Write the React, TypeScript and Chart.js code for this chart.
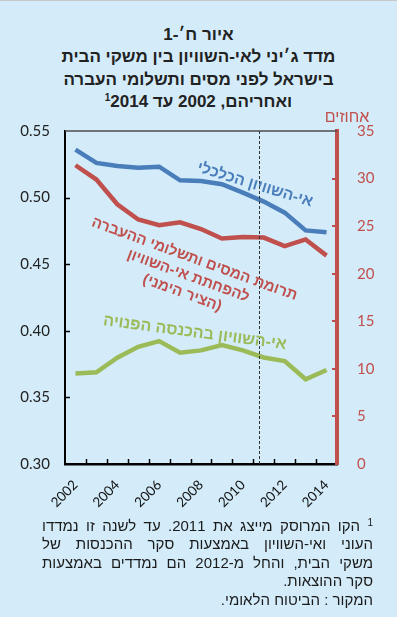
import React, { useEffect, useRef } from "react";
import { Chart, registerables } from "chart.js";

Chart.register(...registerables);

const years = ["2002", "2003", "2004", "2005", "2006", "2007", "2008", "2009", "2010", "2011", "2012", "2013", "2014"];
const giniEconomic = [0.536, 0.526, 0.5237, 0.5225, 0.5232, 0.513, 0.5125, 0.51, 0.5037, 0.497, 0.4887, 0.4754, 0.474];
const taxContribution = [31.4, 29.9, 27.3, 25.7, 25.1, 25.4, 24.7, 23.7, 23.86, 23.8, 22.9, 23.6, 21.9];
const giniDisposable = [0.368, 0.3688, 0.3798, 0.388, 0.3923, 0.3836, 0.3853, 0.3893, 0.3853, 0.38, 0.3773, 0.3636, 0.3706];
const leftTicks = [0.3, 0.35, 0.4, 0.45, 0.5, 0.55];
const rightTicks = [0, 5, 10, 15, 20, 25, 30, 35];
const dividerIndex = 8.75; // dashed line marks 2011 survey change

const BLUE = "#4a7ebb";
const RED = "#c0504d";
const GREEN = "#9bbb59";
const HEB = "'Liberation Sans', 'DejaVu Sans', sans-serif";

const blueLabel = ["אי-השוויון הכלכלי"];
const redLabel = ["תרומת המסים ותשלומי ההעברה", "להפחתת אי-השוויון", "(הציר הימני)"];
const greenLabel = ["אי-השוויון בהכנסה הפנויה"];

const overlay = {
  id: "overlay",
  afterDatasetsDraw(chart: any) {
    const { ctx, chartArea: a, scales } = chart;
    const x = scales.x, y = scales.y, y1 = scales.y1;
    ctx.save();
    // top frame
    ctx.strokeStyle = "#4d4d4d";
    ctx.lineWidth = 1.5;
    ctx.beginPath();
    ctx.moveTo(a.left, a.top);
    ctx.lineTo(a.right, a.top);
    ctx.stroke();
    // inward x ticks between categories
    ctx.strokeStyle = "#000";
    ctx.lineWidth = 1.5;
    for (let i = 1; i < years.length; i++) {
      const px = Math.round((x.getPixelForValue(i - 1) + x.getPixelForValue(i)) / 2) + 0.5;
      ctx.beginPath();
      ctx.moveTo(px, a.bottom);
      ctx.lineTo(px, a.bottom - 5);
      ctx.stroke();
    }
    // inward left ticks
    leftTicks.slice(1, -1).forEach((v) => {
      const py = Math.round(y.getPixelForValue(v)) + 0.5;
      ctx.beginPath();
      ctx.moveTo(a.left, py);
      ctx.lineTo(a.left + 5, py);
      ctx.stroke();
    });
    // inward right ticks
    ctx.strokeStyle = RED;
    ctx.lineWidth = 2;
    rightTicks.slice(1, -1).forEach((v) => {
      const py = Math.round(y1.getPixelForValue(v));
      ctx.beginPath();
      ctx.moveTo(a.right, py);
      ctx.lineTo(a.right - 5, py);
      ctx.stroke();
    });
    // dashed divider
    const dx = Math.round(x.getPixelForValue(dividerIndex)) + 0.5;
    ctx.strokeStyle = "#333";
    ctx.lineWidth = 1;
    ctx.setLineDash([3, 2]);
    ctx.beginPath();
    ctx.moveTo(dx, a.top);
    ctx.lineTo(dx, a.bottom);
    ctx.stroke();
    ctx.setLineDash([]);

    // axis unit label
    ctx.direction = "rtl";
    ctx.textAlign = "center";
    ctx.textBaseline = "middle";
    ctx.fillStyle = RED;
    ctx.font = `16px ${HEB}`;
    ctx.fillText("אחוזים", a.right + 10, a.top - 13);

    const drawLabel = (lines: string[], px: number, py: number, deg: number, color: string, gap: number, size: number) => {
      ctx.save();
      ctx.translate(px, py);
      ctx.rotate((deg * Math.PI) / 180);
      ctx.fillStyle = color;
      ctx.font = `bold ${size}px ${HEB}`;
      const off = ((lines.length - 1) * gap) / 2;
      lines.forEach((t, i) => ctx.fillText(t, 0, i * gap - off));
      ctx.restore();
    };
    drawLabel(blueLabel, x.getPixelForValue(8.58), y.getPixelForValue(0.5095), 17, BLUE, 18, 15.5);
    drawLabel(redLabel, x.getPixelForValue(5.39), y1.getPixelForValue(19.75), 20, RED, 18, 15);
    drawLabel(greenLabel, x.getPixelForValue(5.71), y.getPixelForValue(0.3985), 7.5, GREEN, 18, 16);
    ctx.restore();
  },
};

export default function App() {
  const ref = useRef<HTMLCanvasElement | null>(null);
  useEffect(() => {
    document.body.style.margin = "0";
    const tickFont = { family: "Lato", size: 15 };
    const chart = new Chart(ref.current as HTMLCanvasElement, {
      type: "line",
      data: {
        labels: years,
        datasets: [
          { data: giniEconomic, yAxisID: "y", borderColor: BLUE, borderWidth: 4.5, pointRadius: 0, tension: 0 },
          { data: taxContribution, yAxisID: "y1", borderColor: RED, borderWidth: 4.5, pointRadius: 0, tension: 0 },
          { data: giniDisposable, yAxisID: "y", borderColor: GREEN, borderWidth: 4.5, pointRadius: 0, tension: 0 },
        ],
      },
      options: {
        responsive: false,
        animation: false,
        layout: { padding: { top: 30, left: 0, right: 0, bottom: 0 } },
        plugins: { legend: { display: false }, tooltip: { enabled: false }, title: { display: false } },
        scales: {
          x: {
            type: "category",
            offset: true,
            grid: { drawOnChartArea: false, drawTicks: false },
            border: { color: "#000", width: 2.5 },
            ticks: {
              autoSkip: false,
              minRotation: 45,
              maxRotation: 45,
              padding: 13,
              color: "#111",
              font: { family: "Lato", size: 13.5 },
              callback: (_v: any, i: number) => (i % 2 === 0 ? years[i] : ""),
            },
            afterFit: (s: any) => { s.height = 57; },
          },
          y: {
            position: "left",
            min: 0.3,
            max: 0.55,
            grid: { drawOnChartArea: false, drawTicks: false },
            border: { color: "#000", width: 2 },
            ticks: {
              stepSize: 0.05,
              padding: 15,
              color: "#222",
              font: tickFont,
              callback: (v: any) => Number(v).toFixed(2),
            },
            afterFit: (s: any) => { s.width = 65; },
          },
          y1: {
            position: "right",
            min: 0,
            max: 35,
            grid: { drawOnChartArea: false, drawTicks: false },
            border: { color: RED, width: 4 },
            ticks: { stepSize: 5, padding: 20, color: RED, font: tickFont },
            afterFit: (s: any) => { s.width = 60; },
          },
        },
      },
      plugins: [overlay],
    });
    return () => chart.destroy();
  }, []);

  const footLines = [
    "הקו המרוסק מייצג את 2011. עד לשנה זו נמדדו",
    "העוני ואי-השוויון באמצעות סקר ההכנסות של",
    "משקי הבית, והחל מ-2012 הם נמדדים באמצעות",
  ];

  return (
    <div style={{ position: "relative", width: 397, height: 617, background: "#d4ecfa", borderTop: "1.5px solid #c8c8c8", boxSizing: "border-box", overflow: "hidden" }}>
      <div dir="rtl" style={{ position: "absolute", top: 23, left: 0, width: 397, textAlign: "center", fontFamily: HEB, fontWeight: "bold", fontSize: 17, lineHeight: "22.3px", color: "#222" }}>
        <div>איור ח׳-1</div>
        <div>מדד ג׳יני לאי-השוויון בין משקי הבית</div>
        <div>בישראל לפני מסים ותשלומי העברה</div>
        <div>
          ואחריהם, 2002 עד 2014{"\u200F"}
          <sup style={{ fontSize: 10, verticalAlign: "6px", lineHeight: 0 }}>1</sup>
        </div>
      </div>
      <canvas ref={ref} width={397} height={420} style={{ position: "absolute", top: 100, left: 0, width: 397, height: 420 }} />
      <div dir="rtl" style={{ position: "absolute", top: 516, left: 42, width: 331, fontFamily: HEB, fontSize: 15, lineHeight: "18.4px", color: "#1a1a1a" }}>
        {footLines.map((t, i) => (
          <div key={i} style={{ textAlign: "justify", textAlignLast: "justify", whiteSpace: "nowrap" }}>
            {i === 0 ? <sup style={{ fontSize: 10, verticalAlign: "5px", lineHeight: 0 }}>1</sup> : null}
            {i === 0 ? " " : ""}
            {t}
          </div>
        ))}
        <div>סקר ההוצאות.</div>
        <div>המקור : הביטוח הלאומי.</div>
      </div>
    </div>
  );
}
